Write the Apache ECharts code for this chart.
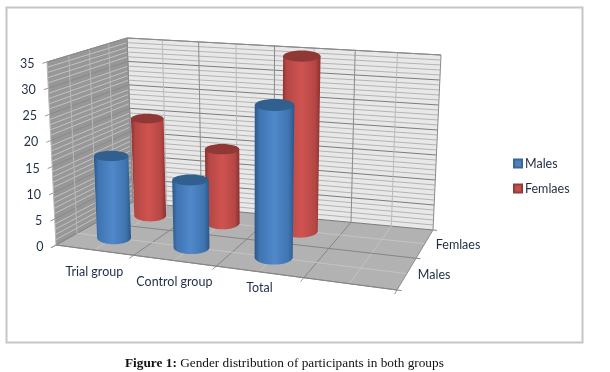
<!DOCTYPE html>
<html>
<head>
<meta charset="utf-8">
<style>
  html, body { margin: 0; padding: 0; background: #fff; }
  #chart { width: 610px; height: 372px; }
</style>
<script src="https://cdn.jsdelivr.net/npm/echarts@6/dist/echarts.min.js"></script>
</head>
<body>
<div id="chart"></div>
<script>
// chart values
const categories = ['Trial group', 'Control group', 'Total', '']
const depthNames = ['Males', 'Femlaes']
const males = [16, 13, 29]
const femlaes = [20, 15, 35]
const yTicks = [0, 5, 10, 15, 20, 25, 30, 35]

const yMax = 35
const minorStep = 1
const labelFont = 'Lato'
const labelColor = '#1f2d45'

// corners of the 3d box on screen [bottom, top]
const box = {
  fl: [[56, 245], [47, 62]],
  fr: [[397, 290], [404, 97]],
  bl: [[133, 202], [127, 38]],
  br: [[433, 230], [441, 55]]
}

function warp (t, k) {
  return t / (k - (k - 1) * t)
}
function mix (a, b, t) {
  return [a[0] + (b[0] - a[0]) * t, a[1] + (b[1] - a[1]) * t]
}
// u: along categories, v: along depth, h: up the value axis, all 0..1
function project (u, v, h) {
  const uu = warp(u, 1.128)
  const vv = warp(v, 0.89)
  const front = mix(mix(box.fl[0], box.fl[1], h), mix(box.fr[0], box.fr[1], h), uu)
  const back = mix(mix(box.bl[0], box.bl[1], h), mix(box.br[0], box.br[1], h), uu)
  return mix(front, back, vv)
}

function line (a, b, color, width) {
  return {
    type: 'line',
    silent: true,
    shape: { x1: a[0], y1: a[1], x2: b[0], y2: b[1] },
    style: { stroke: color, lineWidth: width || 1, fill: null }
  }
}
function quad (a, b, c, d, color) {
  return { type: 'polygon', silent: true, shape: { points: [a, b, c, d] }, style: { fill: color } }
}
function label (text, x, y, align) {
  return {
    type: 'text',
    silent: true,
    style: {
      text: text,
      x: x,
      y: y,
      align: align,
      verticalAlign: 'middle',
      fill: labelColor,
      font: '12.5px ' + labelFont
    }
  }
}

function renderBox (params, api) {
  const sys = params.coordSys
  const band = api.size([1, 0])[0] / sys.width
  const kids = []
  const d = depthNames.length
  const hOf = val => (sys.y + sys.height - api.coord([0, val])[1]) / sys.height
  const uOf = i => (api.coord([i, 0])[0] - sys.x) / sys.width

  // walls and floor
  kids.push(quad(project(0, 0, 0), project(0, 1, 0), project(0, 1, 1), project(0, 0, 1), '#979797'))
  kids.push(quad(project(0, 1, 0), project(1, 1, 0), project(1, 1, 1), project(0, 1, 1), '#e8e8e8'))
  kids.push(quad(project(0, 0, 0), project(1, 0, 0), project(1, 1, 0), project(0, 1, 0), '#b2b2b2'))

  // horizontal lines on the walls, minor first
  for (let val = 0; val <= yMax; val += minorStep) {
    if (val % 5 === 0) continue
    const h = hOf(val)
    kids.push(line(project(0, 0, h), project(0, 1, h), '#c2c2c2'))
    kids.push(line(project(0, 1, h), project(1, 1, h), '#b4b4b4'))
  }
  yTicks.forEach(val => {
    const h = hOf(val)
    kids.push(line(project(0, 0, h), project(0, 1, h), '#8a8a8a'))
    kids.push(line(project(0, 1, h), project(1, 1, h), '#7c7c7c'))
    kids.push(line(project(0, -0.05, h), project(0, 0, h), '#9a9a9a'))
    const p = project(0, 0, h)
    kids.push(label(String(val), p[0] - 12.5, p[1] + 2, 'right'))
  })

  // lines along the depth, at category edges and centres
  categories.forEach((name, i) => {
    const c = uOf(i)
    const e = c - band / 2
    kids.push(line(project(c, 0, 0), project(c, 1, 0), '#c4c4c4'))
    kids.push(line(project(c, 1, 0), project(c, 1, 1), '#bcbcbc'))
    kids.push(line(project(e, 0, 0), project(e, 1, 0), '#858585'))
    kids.push(line(project(e, 1, 0), project(e, 1, 1), '#8c8c8c'))
    kids.push(line(project(e, -0.06, 0), project(e, 0, 0), '#9a9a9a'))
  })
  kids.push(line(project(1, -0.06, 0), project(1, 0, 0), '#9a9a9a'))
  kids.push(line(project(1, 1, 0), project(1, 1, 1), '#8c8c8c'))
  kids.push(line(project(0, 0, 0), project(1, 0, 0), '#8c8c8c'))

  // lines across the depth
  depthNames.forEach((name, j) => {
    const c = (j + 0.5) / d
    const e = j / d
    kids.push(line(project(0, c, 0), project(1, c, 0), '#c4c4c4'))
    kids.push(line(project(0, c, 0), project(0, c, 1), '#b8b8b8'))
    kids.push(line(project(0, e, 0), project(1.012, e, 0), '#858585'))
    kids.push(line(project(0, e, 0), project(0, e, 1), '#b8b8b8'))
    const p = project(1, c, 0)
    kids.push(label(name, p[0] + 11, p[1] + 1, 'left'))
  })
  kids.push(line(project(0, 1, 0), project(0, 1, 1), '#8c8c8c'))
  kids.push(line(project(1, 1, 0), project(1.012, 1, 0), '#858585'))
  kids.push(line(project(0, 1, 1), project(1, 1, 1), '#8c8c8c'))
  kids.push(line(project(0, 0, 1), project(0, 1, 1), '#8c8c8c'))
  kids.push(line(project(1, 0, 0), project(1, 1, 0), '#8c8c8c'))

  // category names under the front edge
  const drop = [22, 21.5, 16, 0]
  categories.forEach((name, i) => {
    const p = project(uOf(i), 0, 0)
    kids.push(label(name, p[0], p[1] + drop[i], 'center'))
  })
  return { type: 'group', children: kids }
}

function cylinderRenderer (depth, colors) {
  return function (params, api) {
    const sys = params.coordSys
    const band = api.size([1, 0])[0] / sys.width
    const cat = api.value(0)
    const u = (api.coord([cat, 0])[0] - sys.x) / sys.width
    const v = (depth + 0.5) / depthNames.length
    const h = (sys.y + sys.height - api.coord([cat, api.value(1)])[1]) / sys.height
    const du = band * 0.225
    const base = project(u, v, 0)
    const top = project(u, v, h)
    const rb = (project(u + du, v, 0)[0] - project(u - du, v, 0)[0]) / 2
    const rt = (project(u + du, v, h)[0] - project(u - du, v, h)[0]) / 2
    const ryb = rb * 0.38
    const ryt = rt * 0.3

    const pts = [[top[0] - rt, top[1]]]
    for (let a = 180; a >= 0; a -= 10) {
      const t = a * Math.PI / 180
      pts.push([base[0] + rb * Math.cos(t), base[1] + ryb * Math.sin(t)])
    }
    pts.push([top[0] + rt, top[1]])

    return {
      type: 'group',
      children: [
        {
          type: 'polygon',
          shape: { points: pts },
          style: {
            fill: new echarts.graphic.LinearGradient(0, 0, 1, 0, [
              { offset: 0, color: colors.edge },
              { offset: 0.12, color: colors.side },
              { offset: 0.5, color: colors.mid },
              { offset: 0.86, color: colors.side },
              { offset: 1, color: colors.edge }
            ])
          }
        },
        {
          type: 'ellipse',
          shape: { cx: top[0], cy: top[1], rx: rt, ry: ryt },
          style: { fill: colors.top }
        }
      ]
    }
  }
}

const chart = echarts.init(document.getElementById('chart'))
chart.setOption({
  animation: false,
  backgroundColor: '#fff',
  title: {
    left: 120,
    top: 352,
    textStyle: {
      rich: {
        b: { fontFamily: 'Liberation Serif', fontSize: 13.3, fontWeight: 'bold', color: '#111' },
        r: { fontFamily: 'Liberation Serif', fontSize: 13.3, fontWeight: 'normal', color: '#111' }
      }
    },
    text: '{b|Figure 1:}{r| Gender distribution of participants in both groups}'
  },
  grid: { left: 47, top: 62, width: 350, height: 183 },
  xAxis: { type: 'category', data: categories, show: false },
  yAxis: { type: 'value', min: 0, max: yMax, interval: 5, show: false },
  legend: {
    orient: 'vertical',
    left: 508,
    top: 152,
    itemWidth: 8,
    itemHeight: 8,
    itemGap: 12,
    selectedMode: false,
    icon: 'rect',
    data: ['Males', 'Femlaes'],
    textStyle: { fontFamily: labelFont, fontSize: 12.5, color: labelColor, padding: [0, 0, 0, -2] }
  },
  graphic: [{
    type: 'rect',
    silent: true,
    z: -1,
    shape: { x: 6.5, y: 7.5, width: 576, height: 335 },
    style: { fill: '#fff', stroke: '#c6c6c6', lineWidth: 2 }
  }],
  series: [
    {
      type: 'custom',
      name: 'box',
      z: 1,
      silent: true,
      clip: false,
      data: [[0, 0]],
      renderItem: renderBox
    },
    {
      type: 'custom',
      name: 'Males',
      z: 3,
      silent: true,
      clip: false,
      itemStyle: { color: '#4f81bd', borderColor: '#3a6699', borderWidth: 1 },
      data: males.map((val, i) => [i, val]),
      renderItem: cylinderRenderer(0, { edge: '#2a5688', side: '#3f74b0', mid: '#5088cb', top: '#31608f' })
    },
    {
      type: 'custom',
      name: 'Femlaes',
      z: 2,
      silent: true,
      clip: false,
      itemStyle: { color: '#c0504d', borderColor: '#953a38', borderWidth: 1 },
      data: femlaes.map((val, i) => [i, val]),
      renderItem: cylinderRenderer(1, { edge: '#8a302e', side: '#b54744', mid: '#cf5350', top: '#8f3836' })
    }
  ]
})
</script>
</body>
</html>
